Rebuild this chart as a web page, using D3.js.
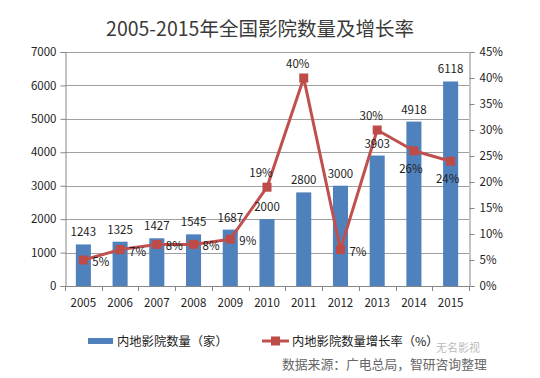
<!DOCTYPE html>
<html><head><meta charset="utf-8">
<script src="https://cdn.jsdelivr.net/npm/d3@7"></script>
<style>
body{margin:0;background:#fff;}
text{font-family:"Noto Sans CJK SC","Microsoft YaHei",sans-serif;}
</style></head>
<body><svg id="c" width="540" height="378"></svg>
<script>
const years = ["2005","2006","2007","2008","2009","2010","2011","2012","2013","2014","2015"];
const cinemas = [1243,1325,1427,1545,1687,2000,2800,3000,3903,4918,6118];
const growth = [5,7,8,8,9,19,40,7,30,26,24];
const leftTicks = [0,1000,2000,3000,4000,5000,6000,7000];
const rightTicks = [0,5,10,15,20,25,30,35,40,45];
// label placement: 'r' right, 'a' above, 'b' below
const growthPos = ["r","r","r","r","r","a","a","r","a","b","b"];

const svg = d3.select("#c");
const L=65, R=469, T=52, B=286;
const x = d3.scaleBand().domain(years).range([L,R]).padding(0);
const yL = d3.scaleLinear().domain([0,7000]).range([B,T]);
const yR = d3.scaleLinear().domain([0,45]).range([B,T]);
const axisCol="#868686";

// title
svg.append("text").attr("x",260).attr("y",36).attr("text-anchor","middle")
  .attr("font-size",19.5).attr("fill","#3a3a3a").text("2005-2015年全国影院数量及增长率");

// gridlines
svg.append("g").selectAll("line").data(leftTicks.slice(1)).join("line")
  .attr("x1",L).attr("x2",R).attr("y1",d=>Math.round(yL(d))+0.5).attr("y2",d=>Math.round(yL(d))+0.5)
  .attr("stroke","#a0a0a0").attr("stroke-width",1);

// bars
const bw = x.bandwidth()*0.41;
svg.append("g").selectAll("rect").data(cinemas).join("rect")
  .attr("x",(d,i)=>x(years[i])+x.bandwidth()/2-bw/2).attr("width",bw)
  .attr("y",d=>yL(d)).attr("height",d=>B-yL(d)).attr("fill","#4F81BD");

// left axis
const gL = svg.append("g").attr("transform",`translate(${L+0.5},0)`)
  .call(d3.axisLeft(yL).tickValues(leftTicks).tickSize(5).tickPadding(4).tickFormat(d3.format("d")));
// right axis
const gR = svg.append("g").attr("transform",`translate(${R+0.5},0)`)
  .call(d3.axisRight(yR).tickValues(rightTicks).tickSize(5).tickPadding(5).tickFormat(d=>d+"%"));
// bottom axis
const gB = svg.append("g").attr("transform",`translate(0,${B+0.5})`)
  .call(d3.axisBottom(x).tickSize(0).tickPadding(12));
// boundary ticks
svg.append("g").selectAll("line").data(d3.range(years.length+1)).join("line")
  .attr("x1",i=>Math.round(L+i*x.step())+0.5).attr("x2",i=>Math.round(L+i*x.step())+0.5)
  .attr("y1",B).attr("y2",B+5).attr("stroke",axisCol);
[gL,gR,gB].forEach(g=>{
  g.selectAll(".domain").attr("stroke",axisCol).attr("stroke-width",1);
  g.selectAll(".tick line").attr("stroke",axisCol);
  g.selectAll("text").attr("font-size",11.5).attr("fill","#222").attr("font-family",'"Noto Sans CJK SC",sans-serif');
});
gB.select(".domain").attr("d",`M${L},0H${R}`);

// line
const cx = i=>x(years[i])+x.bandwidth()/2;
const line = d3.line().x((d,i)=>cx(i)).y(d=>yR(d));
svg.append("path").datum(growth).attr("d",line).attr("fill","none")
  .attr("stroke","#C0504D").attr("stroke-width",3).attr("stroke-linejoin","round");
svg.append("g").selectAll("rect").data(growth).join("rect")
  .attr("x",(d,i)=>cx(i)-4.5).attr("y",d=>yR(d)-4.5).attr("width",9).attr("height",9)
  .attr("fill","#BE4B48");

// bar labels
svg.append("g").selectAll("text").data(cinemas).join("text")
  .attr("x",(d,i)=>cx(i)).attr("y",d=>yL(d)-8).attr("text-anchor","middle")
  .attr("font-size",11.5).attr("fill","#222").text(d=>d);

// growth labels
svg.append("g").selectAll("text").data(growth).join("text")
  .attr("x",(d,i)=>{const p=growthPos[i]; return p==="r"?cx(i)+9:(p==="a"?cx(i)-6:cx(i)-3);})
  .attr("y",(d,i)=>{const p=growthPos[i]; return p==="r"?yR(d)+6:(p==="a"?yR(d)-10:yR(d)+22);})
  .attr("text-anchor",(d,i)=>growthPos[i]==="r"?"start":"middle")
  .attr("font-size",11.5).attr("fill","#222").text(d=>d+"%");

// legend
const lg = svg.append("g");
lg.append("rect").attr("x",88).attr("y",338).attr("width",25).attr("height",6).attr("fill","#4F81BD");
lg.append("text").attr("x",117).attr("y",345.5).attr("font-size",12.3).attr("fill","#222").text("内地影院数量（家）");
lg.append("line").attr("x1",262).attr("x2",289).attr("y1",341).attr("y2",341).attr("stroke","#C0504D").attr("stroke-width",3);
lg.append("rect").attr("x",271).attr("y",336.5).attr("width",9).attr("height",9).attr("fill","#BE4B48");
lg.append("text").attr("x",292).attr("y",345.5).attr("font-size",12.3).attr("fill","#222").text("内地影院数量增长率（%）");

// source + watermark
svg.append("text").attr("x",458).attr("y",352).attr("font-size",11).attr("fill","#bbb").attr("text-anchor","middle").text("无名影视");
svg.append("text").attr("x",282).attr("y",369).attr("font-size",12.8).attr("fill","#666").text("数据来源：广电总局，智研咨询整理");
</script></body></html>
